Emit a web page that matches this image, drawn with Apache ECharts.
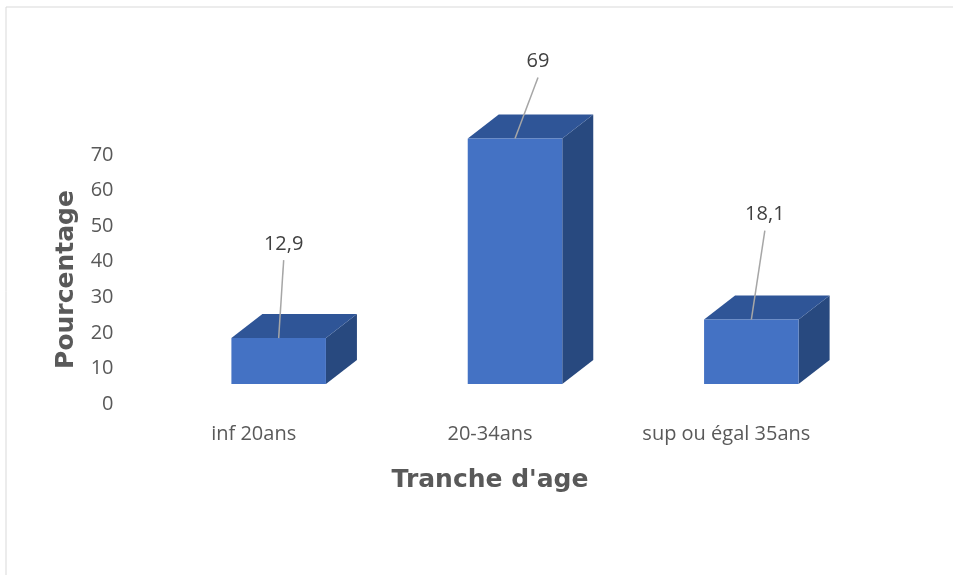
<!DOCTYPE html>
<html>
<head>
<meta charset="utf-8">
<script src="https://cdn.jsdelivr.net/npm/echarts@6/dist/echarts.min.js"></script>
<style>html,body{margin:0;padding:0;background:#fff;}#c{width:953px;height:575px;}</style>
</head>
<body>
<div id="c"></div>
<script>
var categories = ['inf 20ans', '20-34ans', 'sup ou égal 35ans'];
var values = [12.9, 69, 18.1];
var yTicks = [0, 10, 20, 30, 40, 50, 60, 70];

// layout constants (not data)
var labelOffsets = [[5, -94], [23, -77], [13.5, -105]];
var DEPTH_X = 31, DEPTH_Y = -24, FRONT_SHIFT_X = 25, FRONT_SHIFT_Y = -20;

var chart = echarts.init(document.getElementById('c'));
var seriesData = values.map(function (v, i) { return [i, v]; });

function renderItem(params, api) {
  var i = api.value(0), v = api.value(1);
  var base = api.coord([i, 0]);
  var top = api.coord([i, v]);
  var bw = api.size([1, 0])[0] * 0.4;
  var cx = base[0] + FRONT_SHIFT_X;
  var x0 = cx - bw / 2, x1 = cx + bw / 2;
  var yb = base[1] + FRONT_SHIFT_Y, yt = top[1] + FRONT_SHIFT_Y;
  var off = labelOffsets[i];
  var lx = cx + off[0], ly = yt + off[1];
  return {
    type: 'group',
    children: [
      { type: 'polygon', shape: { points: [[x1, yb], [x1 + DEPTH_X, yb + DEPTH_Y], [x1 + DEPTH_X, yt + DEPTH_Y], [x1, yt]] }, style: { fill: '#28497F' } },
      { type: 'polygon', shape: { points: [[x0, yt], [x0 + DEPTH_X, yt + DEPTH_Y], [x1 + DEPTH_X, yt + DEPTH_Y], [x1, yt]] }, style: { fill: '#2F5597' } },
      { type: 'rect', shape: { x: x0, y: yt, width: bw, height: yb - yt }, style: { fill: '#4472C4' } },
      { type: 'line', shape: { x1: lx, y1: ly + 16, x2: cx, y2: yt }, style: { stroke: '#A6A6A6', lineWidth: 1.5 } },
      { type: 'text', style: { text: String(v).replace('.', ','), x: lx, y: ly, align: 'center', verticalAlign: 'middle', fill: '#404040', font: '20px "Open Sans"' } }
    ]
  };
}

chart.setOption({
  animation: false,
  graphic: [{ type: 'rect', shape: { x: 6, y: 7, width: 1200, height: 1200 }, style: { fill: 'none', stroke: '#D9D9D9', lineWidth: 1 }, z: -10 }],
  grid: { left: 135.5, right: 108.5, top: 155, bottom: 171 },
  xAxis: {
    type: 'category', data: categories,
    axisLine: { show: false }, axisTick: { show: false },
    axisLabel: { color: '#595959', fontSize: 20, fontFamily: 'Open Sans', margin: 20 },
    name: "Tranche d'age", nameLocation: 'middle', nameGap: 64,
    nameTextStyle: { color: '#595959', fontSize: 25, fontWeight: 'bold', fontFamily: 'DejaVu Sans' }
  },
  yAxis: {
    type: 'value', min: 0, max: 70, interval: 10,
    axisLine: { show: false }, axisTick: { show: false }, splitLine: { show: false },
    axisLabel: { color: '#595959', fontSize: 20, fontFamily: 'Open Sans', margin: 22,
      formatter: function (val) { return yTicks.indexOf(val) >= 0 ? String(val) : ''; } },
    name: 'Pourcentage', nameLocation: 'middle', nameGap: 57,
    nameTextStyle: { color: '#595959', fontSize: 25, fontWeight: 'bold', fontFamily: 'DejaVu Sans' }
  },
  series: [{ type: 'custom', renderItem: renderItem, data: seriesData, clip: false }]
});
</script>
</body>
</html>
